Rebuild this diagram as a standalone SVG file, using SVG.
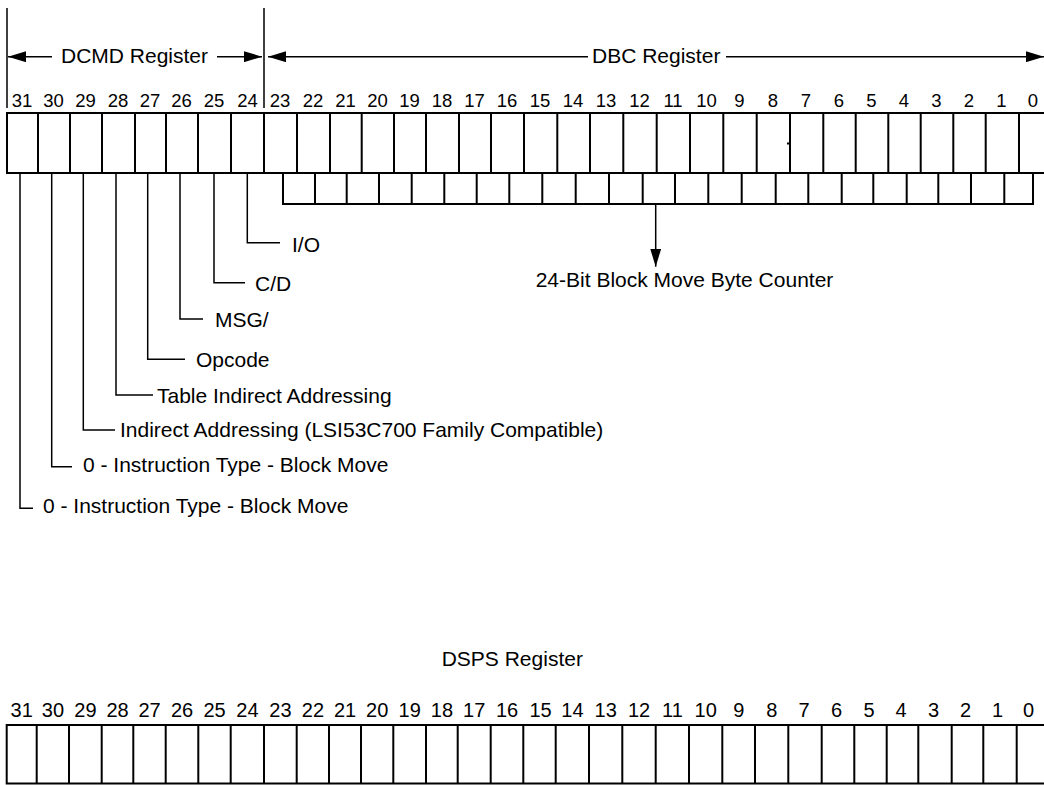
<svg xmlns="http://www.w3.org/2000/svg" width="1044" height="785" viewBox="0 0 1044 785">
<defs>
<style>
text{font-family:"Liberation Sans",Arial,Helvetica,sans-serif;fill:#000}
.lbl{font-size:21px}
.num{font-size:18.5px;text-anchor:middle}
.num2{font-size:20px;text-anchor:middle}
.box{fill:#fff;stroke:#000;stroke-width:2}
.div{stroke:#000;stroke-width:2;fill:none}
.ln{stroke:#000;stroke-width:1.5;fill:none}
.arr{stroke:#000;stroke-width:1.5;fill:none;marker-end:url(#ah)}
</style>
<marker id="ah" markerUnits="userSpaceOnUse" markerWidth="18" markerHeight="11" refX="18" refY="5.5" orient="auto">
<path d="M0,0 L18,5.5 L0,11 Z" fill="#000"/>
</marker>
</defs>
<rect width="1044" height="785" fill="#fff"/>

<g id="dcmd-header">
<text class="lbl" x="61" y="63.3">DCMD Register</text>
</g>
<g id="dbc-header">
<text class="lbl" x="592" y="63.3">DBC Register</text>
</g>

<g id="top-register">
<rect class="box" x="7" y="113" width="1045" height="60"/>
<path class="div" d="M38,113V173 M70,113V173 M102,113V173 M135,113V173 M166,113V173 M198,113V173 M231,113V173 M264,113V173 M297,113V173 M330,113V173 M361.7,113V173 M394,113V173 M426,113V173 M459,113V173 M491,113V173 M524,113V173 M557.3,113V173 M590,113V173 M623.3,113V173 M656.7,113V173 M690,113V173 M723.3,113V173 M756.7,113V173 M790,113V173 M823.3,113V173 M855.7,113V173 M888.3,113V173 M920.7,113V173 M953.3,113V173 M985.7,113V173 M1019,113V173"/>
<path class="div" d="M787,143.5H790"/>
<g>
<text class="num" x="22" y="107">31</text>
<text class="num" x="53.5" y="107">30</text>
<text class="num" x="85.5" y="107">29</text>
<text class="num" x="118" y="107">28</text>
<text class="num" x="150" y="107">27</text>
<text class="num" x="181.5" y="107">26</text>
<text class="num" x="214" y="107">25</text>
<text class="num" x="247.5" y="107">24</text>
<text class="num" x="280" y="107">23</text>
<text class="num" x="313" y="107">22</text>
<text class="num" x="345.5" y="107">21</text>
<text class="num" x="377.5" y="107">20</text>
<text class="num" x="409.5" y="107">19</text>
<text class="num" x="442" y="107">18</text>
<text class="num" x="474.5" y="107">17</text>
<text class="num" x="507" y="107">16</text>
<text class="num" x="540" y="107">15</text>
<text class="num" x="573" y="107">14</text>
<text class="num" x="606" y="107">13</text>
<text class="num" x="639.5" y="107">12</text>
<text class="num" x="673" y="107">11</text>
<text class="num" x="706.5" y="107">10</text>
<text class="num" x="739.5" y="107">9</text>
<text class="num" x="773" y="107">8</text>
<text class="num" x="806" y="107">7</text>
<text class="num" x="839" y="107">6</text>
<text class="num" x="871.5" y="107">5</text>
<text class="num" x="904" y="107">4</text>
<text class="num" x="936.5" y="107">3</text>
<text class="num" x="969" y="107">2</text>
<text class="num" x="1001.5" y="107">1</text>
<text class="num" x="1033" y="107">0</text>
</g>
</g>

<g id="byte-counter-field">
<path class="div" d="M283,173V204H1033V173"/>
<path class="div" d="M315,173V204 M346.7,173V204 M379,173V204 M411.7,173V204 M444.3,173V204 M476.7,173V204 M509.3,173V204 M542.3,173V204 M575.7,173V204 M609,173V204 M642.7,173V204 M675,173V204 M708.3,173V204 M741.7,173V204 M775.7,173V204 M808.3,173V204 M841.7,173V204 M873.3,173V204 M906.7,173V204 M938.3,173V204 M971,173V204 M1004.3,173V204"/>
</g>

<g id="label-counter"><text class="lbl" x="535.7" y="286.7">24-Bit Block Move Byte Counter</text></g>
<g id="label-io"><text class="lbl" x="292" y="251.5">I/O</text></g>
<g id="label-cd"><text class="lbl" x="255" y="290.7">C/D</text></g>
<g id="label-msg"><text class="lbl" x="215" y="327.3">MSG/</text></g>
<g id="label-opcode"><text class="lbl" x="196" y="366.7">Opcode</text></g>
<g id="label-table"><text class="lbl" x="157" y="403.3">Table Indirect Addressing</text></g>
<g id="label-indirect"><text class="lbl" x="120" y="437">Indirect Addressing (LSI53C700 Family Compatible)</text></g>
<g id="label-type1"><text class="lbl" x="83" y="471.7">0 - Instruction Type - Block Move</text></g>
<g id="label-type2"><text class="lbl" x="43" y="513.3">0 - Instruction Type - Block Move</text></g>

<g id="connectors">
<path class="ln" d="M7,8V108 M264,8V108"/>
<line class="arr" x1="52" y1="56.7" x2="8" y2="56.7"/>
<line class="arr" x1="217" y1="56.7" x2="262" y2="56.7"/>
<line class="arr" x1="588" y1="56.7" x2="268" y2="56.7"/>
<line class="arr" x1="726" y1="56.7" x2="1044" y2="56.7"/>
<line class="arr" x1="655.7" y1="204" x2="655.7" y2="266.7"/>
<path class="ln" d="M247.3,173V242.7H280"/>
<path class="ln" d="M214,173V282.7H245"/>
<path class="ln" d="M180,173V319H203"/>
<path class="ln" d="M147.7,173V359.3H185"/>
<path class="ln" d="M116,173V395H153"/>
<path class="ln" d="M83.3,173V430H115"/>
<path class="ln" d="M51.7,173V466.7H72"/>
<path class="ln" d="M20,173V508.3H33"/>
</g>

<g id="dsps-header">
<text class="lbl" x="441.7" y="666">DSPS Register</text>
</g>

<g id="dsps-register">
<rect class="box" x="6.7" y="725" width="1043" height="58.5"/>
<path class="div" d="M36.7,725V783.5 M69,725V783.5 M101.7,725V783.5 M133.3,725V783.5 M165.7,725V783.5 M198.3,725V783.5 M230.7,725V783.5 M264,725V783.5 M296.7,725V783.5 M329,725V783.5 M361,725V783.5 M393.3,725V783.5 M426,725V783.5 M457.7,725V783.5 M490.7,725V783.5 M523.3,725V783.5 M555.7,725V783.5 M589,725V783.5 M622.3,725V783.5 M655.7,725V783.5 M689,725V783.5 M722.3,725V783.5 M755,725V783.5 M788.3,725V783.5 M821.7,725V783.5 M854.3,725V783.5 M886.7,725V783.5 M918.3,725V783.5 M951.7,725V783.5 M983.3,725V783.5 M1016.7,725V783.5"/>
<g>
<text class="num2" x="21.7" y="717">31</text>
<text class="num2" x="52.9" y="717">30</text>
<text class="num2" x="85.4" y="717">29</text>
<text class="num2" x="117.5" y="717">28</text>
<text class="num2" x="149.5" y="717">27</text>
<text class="num2" x="182" y="717">26</text>
<text class="num2" x="214.5" y="717">25</text>
<text class="num2" x="247.4" y="717">24</text>
<text class="num2" x="280.4" y="717">23</text>
<text class="num2" x="312.9" y="717">22</text>
<text class="num2" x="345" y="717">21</text>
<text class="num2" x="377.2" y="717">20</text>
<text class="num2" x="409.7" y="717">19</text>
<text class="num2" x="441.9" y="717">18</text>
<text class="num2" x="474.2" y="717">17</text>
<text class="num2" x="507" y="717">16</text>
<text class="num2" x="540.5" y="717">15</text>
<text class="num2" x="572.4" y="717">14</text>
<text class="num2" x="605.7" y="717">13</text>
<text class="num2" x="639" y="717">12</text>
<text class="num2" x="672.4" y="717">11</text>
<text class="num2" x="705.7" y="717">10</text>
<text class="num2" x="738.7" y="717">9</text>
<text class="num2" x="771.7" y="717">8</text>
<text class="num2" x="804" y="717">7</text>
<text class="num2" x="836.5" y="717">6</text>
<text class="num2" x="869" y="717">5</text>
<text class="num2" x="901" y="717">4</text>
<text class="num2" x="933.5" y="717">3</text>
<text class="num2" x="965.5" y="717">2</text>
<text class="num2" x="997.5" y="717">1</text>
<text class="num2" x="1028.5" y="717">0</text>
</g>
</g>
</svg>
